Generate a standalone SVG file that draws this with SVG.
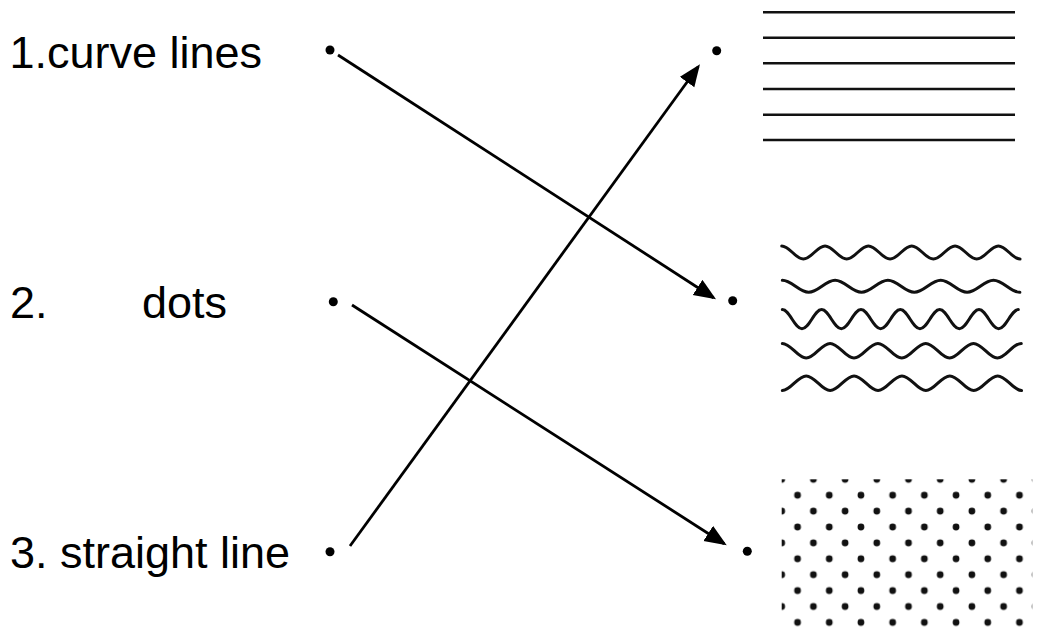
<svg xmlns="http://www.w3.org/2000/svg" width="1037" height="634" viewBox="0 0 1037 634">
  <style>
    .lbl { font-family: "Liberation Sans", Arial, sans-serif; font-size: 45px; fill: #000; }
    .bullet { fill: #000; }
    .hline { stroke: #111; stroke-width: 2.6; fill: none; }
    .wave { stroke: #111; stroke-width: 3; fill: none; stroke-linecap: round; }
    .conn { stroke: #000; stroke-width: 2.8; fill: none; }
  </style>
  <defs>
    <marker id="arrow" markerUnits="userSpaceOnUse" markerWidth="26" markerHeight="20" refX="19" refY="9" orient="auto">
      <path d="M0,0 L22,9 L0,18 Z" fill="#000"/>
    </marker>
    <pattern id="dotpat" patternUnits="userSpaceOnUse" x="773.8" y="471.35" width="31.7" height="31.8">
      <circle cx="7.9" cy="7.95" r="3.4" fill="#111"/>
      <circle cx="23.75" cy="23.85" r="3.4" fill="#111"/>
    </pattern>
  </defs>
  <rect width="1037" height="634" fill="#fff"/>

  <g id="node-curve-lines">
    <text class="lbl" x="9.5" y="68.3">1.curve lines</text>
    <circle class="bullet" cx="330" cy="50" r="4.5"/>
  </g>
  <g id="node-dots">
    <text class="lbl" x="10" y="318.3">2.<tspan x="142">dots</tspan></text>
    <circle class="bullet" cx="333.3" cy="301.7" r="4.5"/>
  </g>
  <g id="node-straight-line">
    <text class="lbl" x="10" y="568.3">3. straight line</text>
    <circle class="bullet" cx="330" cy="551.7" r="4.5"/>
  </g>

  <g id="node-img-straight">
    <circle class="bullet" cx="716.7" cy="50.7" r="4.5"/>
    <line class="hline" x1="763" y1="12.3" x2="1015" y2="12.3"/>
    <line class="hline" x1="763" y1="37.7" x2="1015" y2="37.7"/>
    <line class="hline" x1="763" y1="63.3" x2="1015" y2="63.3"/>
    <line class="hline" x1="763" y1="89" x2="1015" y2="89"/>
    <line class="hline" x1="763" y1="114.7" x2="1015" y2="114.7"/>
    <line class="hline" x1="763" y1="140" x2="1015" y2="140"/>
  </g>

  <g id="node-img-curves">
    <circle class="bullet" cx="732.7" cy="300.7" r="4.5"/>
    <path class="wave" d="M781.7,246 c7.89,0 13.78,13 21.67,13 s13.78,-13 21.67,-13 s13.78,13 21.67,13 s13.78,-13 21.67,-13 s13.78,13 21.67,13 s13.78,-13 21.67,-13 s13.78,13 21.67,13 s13.78,-13 21.67,-13 s13.78,13 21.67,13 s13.78,-13 21.67,-13 s13.78,13 21.67,13"/>
    <path class="wave" d="M782.3,280.3 c9.6,0 16.8,12 26.4,12 s16.8,-12 26.4,-12 s16.8,12 26.4,12 s16.8,-12 26.4,-12 s16.8,12 26.4,12 s16.8,-12 26.4,-12 s16.8,12 26.4,12 s16.8,-12 26.4,-12 s16.8,12 26.4,12"/>
    <path class="wave" d="M782.3,309.6 c7.15,0 12.52,19.2 19.67,19.2 s12.52,-19.2 19.67,-19.2 s12.52,19.2 19.67,19.2 s12.52,-19.2 19.67,-19.2 s12.52,19.2 19.67,19.2 s12.52,-19.2 19.67,-19.2 s12.52,19.2 19.67,19.2 s12.52,-19.2 19.67,-19.2 s12.52,19.2 19.67,19.2 s12.52,-19.2 19.67,-19.2 s12.52,19.2 19.67,19.2 s12.52,-19.2 19.67,-19.2"/>
    <path class="wave" d="M782.3,343.4 c8.69,0 15.21,14.6 23.9,14.6 s15.21,-14.6 23.9,-14.6 s15.21,14.6 23.9,14.6 s15.21,-14.6 23.9,-14.6 s15.21,14.6 23.9,14.6 s15.21,-14.6 23.9,-14.6 s15.21,14.6 23.9,14.6 s15.21,-14.6 23.9,-14.6 s15.21,14.6 23.9,14.6 s15.21,-14.6 23.9,-14.6"/>
    <path class="wave" d="M782.3,390.5 c8.7,0 15.23,-14.6 23.930,-14.6 s15.23,14.6 23.93,14.6 s15.23,-14.6 23.93,-14.6 s15.23,14.6 23.93,14.6 s15.23,-14.6 23.93,-14.6 s15.23,14.6 23.93,14.6 s15.23,-14.6 23.93,-14.6 s15.23,14.6 23.93,14.6 s15.23,-14.6 23.93,-14.6 s15.23,14.6 23.93,14.6"/>
  </g>

  <g id="node-img-dots">
    <circle class="bullet" cx="747.3" cy="551.3" r="4.5"/>
    <rect x="781.7" y="479.3" width="250.6" height="155" fill="url(#dotpat)"/>
  </g>

  <g id="connectors">
    <line class="conn" x1="338" y1="55" x2="713.5" y2="297.7" marker-end="url(#arrow)"/>
    <line class="conn" x1="352" y1="305" x2="724.2" y2="543.7" marker-end="url(#arrow)"/>
    <line class="conn" x1="350" y1="546" x2="698.2" y2="66.7" marker-end="url(#arrow)"/>
  </g>
</svg>
